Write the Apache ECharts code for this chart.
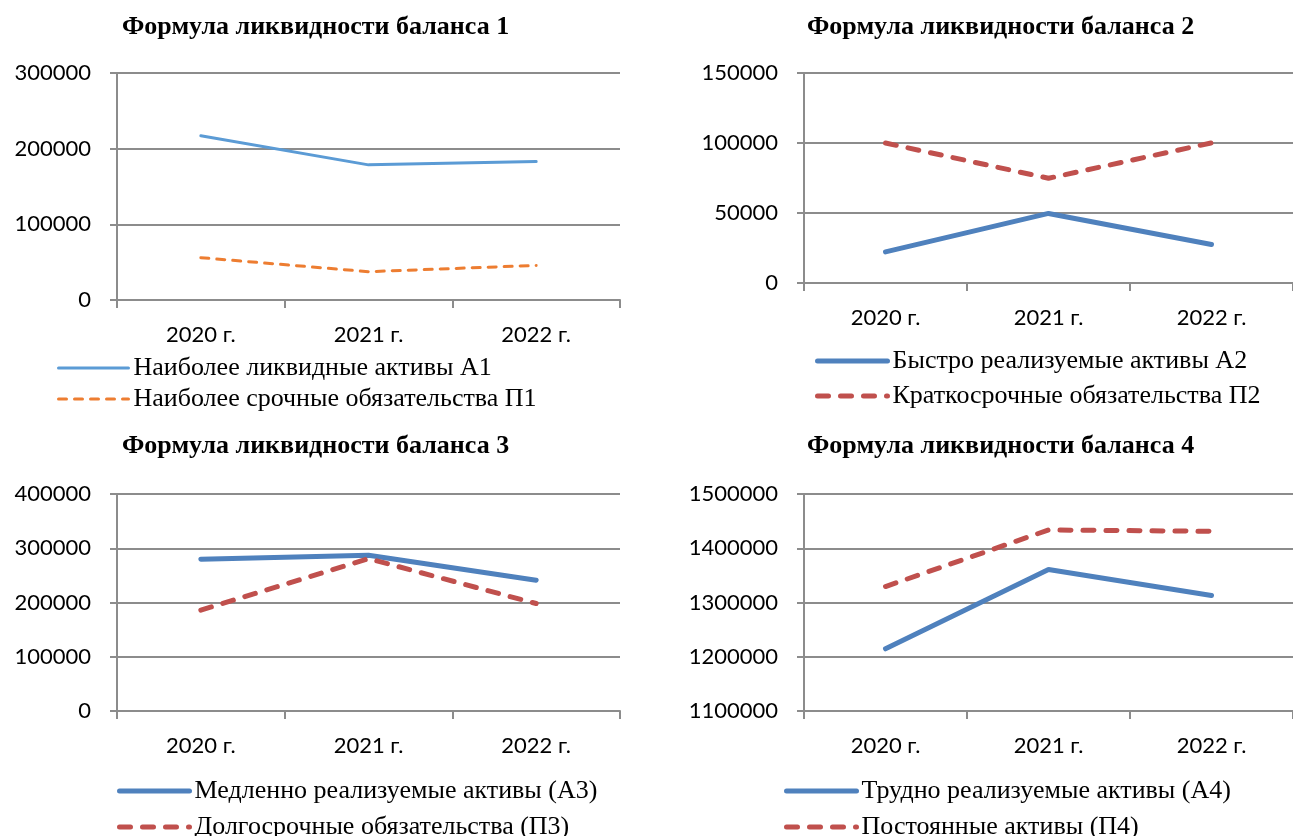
<!DOCTYPE html>
<html>
<head>
<meta charset="utf-8">
<script src="https://cdn.jsdelivr.net/npm/echarts@6/dist/echarts.min.js"></script>
<style>
  html, body { margin: 0; padding: 0; background: #fff; }
  #main { width: 1293px; height: 836px; }
</style>
</head>
<body>
<div id="main"></div>
<script>
var years = ['2020 г.', '2021 г.', '2022 г.'];

var titles = [
    'Формула ликвидности баланса 1',
    'Формула ликвидности баланса 2',
    'Формула ликвидности баланса 3',
    'Формула ликвидности баланса 4'
];

// баланс 1
var a1 = [217200, 178600, 182900];
var p1 = [55900, 37400, 45700];
// баланс 2
var a2 = [22200, 49700, 27500];
var p2 = [100000, 74800, 100100];
// баланс 3
var a3 = [279800, 287200, 241100];
var p3 = [185900, 280900, 198100];
// баланс 4
var a4 = [1214700, 1360700, 1312800];
var p4 = [1329400, 1433700, 1431300];

var names = [
    ['Наиболее ликвидные активы А1', 'Наиболее срочные обязательства П1'],
    ['Быстро реализуемые активы А2', 'Краткосрочные обязательства П2'],
    ['Медленно реализуемые активы (А3)', 'Долгосрочные обязательства (П3)'],
    ['Трудно реализуемые активы (А4)', 'Постоянные активы (П4)']
];

var yMin = [0, 0, 0, 1100000];
var yMax = [300000, 150000, 400000, 1500000];
var yStep = [100000, 50000, 100000, 100000];

var myChart = echarts.init(document.getElementById('main'));

var gray = '#8c8c8c';
var labelFont = 'Lato';
var serif = '"Liberation Serif", "Times New Roman", serif';

var grids = [
    {left: 117, top: 73, width: 503, height: 227},
    {left: 804, top: 73, width: 497, height: 210},
    {left: 117, top: 494, width: 503, height: 217},
    {left: 804, top: 494, width: 497, height: 217}
];
var titlePos = [[122, 14], [807, 14], [122, 433], [807, 433]];
// верхний край легенды и промежуток между строками
var legendPos = [[57, 355], [815, 348], [117, 778], [784, 778]];
var legendGap = [5, 9, 10, 10];
var legendLine = [3, 5, 5, 5];

var xAxes = [], yAxes = [], titleList = [], legends = [];
for (var i = 0; i < 4; i++) {
    xAxes.push({
        type: 'category',
        gridIndex: i,
        data: years,
        boundaryGap: true,
        axisLine: {lineStyle: {color: gray, width: 2}},
        axisTick: {show: true, length: 8, lineStyle: {color: gray, width: 2}},
        axisLabel: {color: '#000', fontFamily: labelFont, fontSize: 22, margin: 24}
    });
    yAxes.push({
        type: 'value',
        gridIndex: i,
        min: yMin[i],
        max: yMax[i],
        interval: yStep[i],
        axisLine: {show: true, lineStyle: {color: gray, width: 2}},
        axisTick: {show: true, length: 7, lineStyle: {color: gray, width: 2}},
        splitLine: {lineStyle: {color: gray, width: 2}},
        axisLabel: {
            color: '#000', fontFamily: labelFont, fontSize: 22, margin: 26,
            formatter: function (v) { return String(v); }
        }
    });
    titleList.push({
        text: titles[i],
        left: titlePos[i][0],
        top: titlePos[i][1],
        padding: 0,
        textStyle: {fontFamily: serif, fontWeight: 'bold', fontSize: 26, color: '#000'}
    });
    legends.push({
        data: names[i],
        orient: 'vertical',
        left: legendPos[i][0],
        top: legendPos[i][1],
        height: 90,
        padding: 0,
        itemWidth: 70,
        itemHeight: 20,
        itemGap: legendGap[i],
        itemStyle: {opacity: 0},
        lineStyle: {width: legendLine[i]},
        textStyle: {fontFamily: serif, fontSize: 26, color: '#000', lineHeight: 22}
    });
}

function line(name, idx, data, color, width, dashed, dash) {
    return {
        name: name,
        type: 'line',
        xAxisIndex: idx,
        yAxisIndex: idx,
        data: data,
        symbol: 'none',
        lineStyle: {color: color, width: width, type: dashed ? dash : 'solid', cap: 'round'},
        itemStyle: {color: color}
    };
}

var series = [
    line(names[0][0], 0, a1, '#5B9BD5', 3, false),
    line(names[0][1], 0, p1, '#ED7D31', 3, true, [8, 8]),
    line(names[1][0], 1, a2, '#4F81BD', 5, false),
    line(names[1][1], 1, p2, '#C0504D', 5, true, [11, 12]),
    line(names[2][0], 2, a3, '#4F81BD', 5, false),
    line(names[2][1], 2, p3, '#C0504D', 5, true, [11, 12]),
    line(names[3][0], 3, a4, '#4F81BD', 5, false),
    line(names[3][1], 3, p4, '#C0504D', 5, true, [11, 12])
];

var option = {
    backgroundColor: '#fff',
    animation: false,
    title: titleList,
    legend: legends,
    grid: grids,
    xAxis: xAxes,
    yAxis: yAxes,
    series: series
};
myChart.setOption(option);
</script>
</body>
</html>
